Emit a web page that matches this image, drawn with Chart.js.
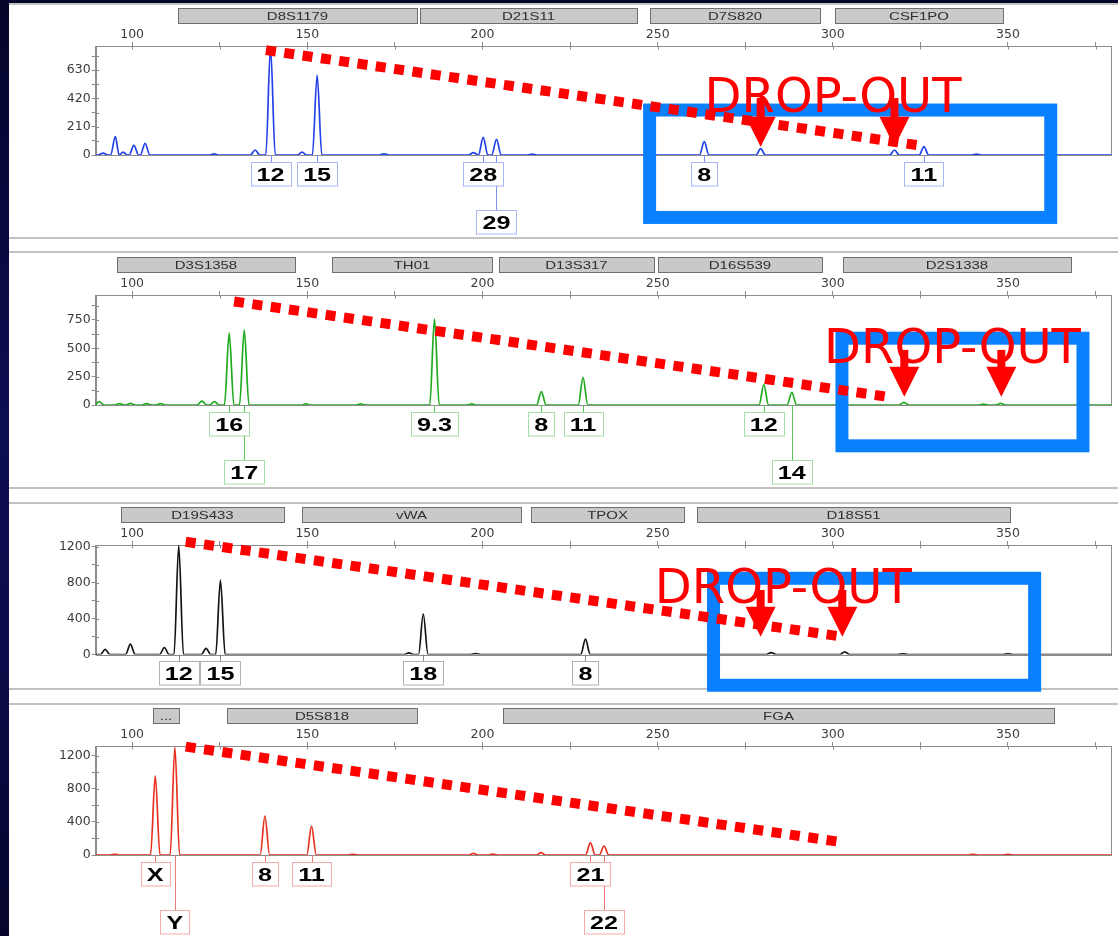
<!DOCTYPE html>
<html>
<head>
<meta charset="utf-8">
<title>STR profile – allele drop-out</title>
<script src="https://cdn.jsdelivr.net/npm/chart.js@4.4.1/dist/chart.umd.min.js"></script>
<style>
  html, body { margin: 0; padding: 0; background: #fff; }
  body { position: relative; width: 1118px; height: 936px; overflow: hidden; }
  #edge { position: absolute; left: 0; top: 0; width: 9px; height: 936px; z-index: 5;
          background: linear-gradient(#04042a, #0d0d52 45%, #0b0b4a 70%, #05052c); }
  #band { position: absolute; left: 0; top: 0; width: 1118px; height: 3px; background: #05052c; z-index: 4; }
  .sep { position: absolute; left: 9px; width: 1109px; height: 2px; background: #c2c2c2; z-index: 0; }
  canvas { position: absolute; left: 0; z-index: 1; }
</style>
</head>
<body>
<div id="edge"></div>
<div id="band"></div>
<div class="sep" style="top:3px"></div>
<div class="sep" style="top:237px"></div>
<div class="sep" style="top:251px"></div>
<div class="sep" style="top:487px"></div>
<div class="sep" style="top:502px"></div>
<div class="sep" style="top:688px"></div>
<div class="sep" style="top:703px"></div>

<canvas id="blue"  width="1118" height="232" style="top:5px"></canvas>
<canvas id="green" width="1118" height="234" style="top:254px"></canvas>
<canvas id="black" width="1118" height="188" style="top:505px"></canvas>
<canvas id="red"   width="1118" height="230" style="top:706px"></canvas>

<script>
// ---------- size window (bp) ----------
const X_MIN = 89.6;
const X_MAX = 379.6;

// ---------- blue dye ----------
const blueLoci      = ['D8S1179', 'D21S11', 'D7S820', 'CSF1PO'];
const blueLociStart = [113.0, 182.1, 247.8, 300.6];
const blueLociEnd   = [181.3, 244.1, 296.4, 348.6];
const bluePeakSize  = [91.7, 95.2, 97.4, 100.5, 103.7, 123.4, 135.1, 139.5, 148.5, 152.8, 171.9, 197.4, 200.2, 204.0, 214.2, 263.3, 279.4, 317.6, 326.0, 341.0];
const bluePeakRfu   = [14, 136, 22, 72, 87, 8, 37, 800, 22, 594, 9, 18, 131, 116, 7, 99, 47, 37, 62, 6];
const blueAlleles   = ['12', '15', '28', '29', '8', '11'];
const blueAlleleBp  = [139.5, 152.8, 200.2, 204.0, 263.3, 326.0];
const blueAlleleRow = [1, 1, 1, 2, 1, 1];

// ---------- green dye ----------
const greenLoci      = ['D3S1358', 'TH01', 'D13S317', 'D16S539', 'D2S1338'];
const greenLociStart = [95.7, 157.0, 204.7, 250.1, 303.0];
const greenLociEnd   = [146.5, 202.7, 249.0, 297.0, 368.1];
const greenPeakSize  = [90.6, 96.4, 99.5, 104.1, 108.1, 119.9, 123.5, 127.7, 132.0, 149.6, 165.2, 186.3, 196.9, 216.8, 228.7, 280.3, 288.3, 320.3, 343.0, 347.9];
const greenPeakRfu   = [30, 12, 14, 12, 12, 35, 30, 633, 662, 10, 10, 760, 10, 118, 244, 180, 112, 24, 8, 15];
const greenAlleles   = ['16', '17', '9.3', '8', '11', '12', '14'];
const greenAlleleBp  = [127.7, 132.0, 186.3, 216.8, 228.7, 280.3, 288.3];
const greenAlleleRow = [1, 2, 1, 1, 1, 1, 2];

// ---------- yellow dye (drawn black) ----------
const blackLoci      = ['D19S433', 'vWA', 'TPOX', 'D18S51'];
const blackLociStart = [96.7, 148.5, 213.9, 261.3];
const blackLociEnd   = [143.4, 211.1, 257.6, 350.5];
const blackPeakSize  = [92.3, 99.5, 109.2, 113.3, 121.1, 125.2, 179.0, 183.1, 198.0, 229.4, 282.4, 303.4, 320.0, 350.0];
const blackPeakRfu   = [58, 116, 78, 1210, 68, 828, 18, 450, 10, 170, 20, 30, 8, 8];
const blackAlleles   = ['12', '15', '18', '8'];
const blackAlleleBp  = [113.3, 125.2, 183.1, 229.4];
const blackAlleleRow = [1, 1, 1, 1];

// ---------- red dye ----------
const redLoci      = ['...', 'D5S818', 'FGA'];
const redLociStart = [105.9, 127.0, 205.8];
const redLociEnd   = [113.5, 181.3, 363.1];
const redPeakSize  = [95.0, 106.6, 112.2, 137.9, 151.2, 163.0, 197.4, 203.0, 216.7, 230.8, 234.7, 340.0, 350.0];
const redPeakRfu   = [12, 955, 1300, 471, 350, 8, 20, 10, 28, 149, 109, 8, 8];
const redAlleles   = ['X', 'Y', '8', '11', '21', '22'];
const redAlleleBp  = [106.6, 112.2, 137.9, 151.2, 230.8, 234.7];
const redAlleleRow = [1, 2, 1, 1, 1, 2];

// ---------- styling ----------
const PEAK_HALF_WIDTH = 1.35;   // bp from peak apex to baseline
const WIDE = 1.36;              // horizontal stretch of the instrument's lettering
const BOX_H = 23.5;
const AXIS_FONT = { family: '"DejaVu Sans"', size: 12.5 };

// Turn peak list into a trace: each peak rises from the baseline and returns to it.
function buildTrace(sizes, rfu) {
  const pts = [{ x: X_MIN, y: 0 }];
  for (let i = 0; i < sizes.length; i++) {
    const s = sizes[i];
    const left = s - PEAK_HALF_WIDTH;
    const last = pts[pts.length - 1];
    if (i > 0 && last.x >= left) {
      last.x = (pts[pts.length - 2].x + s) / 2;   // close peaks share one valley
    } else {
      pts.push({ x: left, y: 0 });
    }
    pts.push({ x: s, y: rfu[i] });
    pts.push({ x: s + PEAK_HALF_WIDTH, y: 0 });
  }
  pts.push({ x: X_MAX, y: 0 });
  return pts;
}

// Regular tick positions from `from` up to the axis maximum
function stepTicks(from, step) {
  return axis => {
    const t = [];
    for (let v = from; v <= axis.max + 1e-9; v += step) t.push({ value: v });
    axis.ticks = t;
  };
}

function wideText(ctx, text, cx, cy, size, weight, color) {
  ctx.save();
  ctx.font = `${weight} ${size}px "Liberation Sans", Arial, sans-serif`;
  ctx.fillStyle = color;
  ctx.textAlign = 'center';
  ctx.textBaseline = 'alphabetic';
  ctx.translate(cx, cy + 0.716 * size / 2);
  ctx.scale(WIDE, 1);
  ctx.fillText(text, 0, 0);
  ctx.restore();
}

// Plot frame with short inward tick marks
const framePlugin = {
  id: 'frame',
  beforeDatasetsDraw(chart) {
    const { left, right, top, bottom } = chart.chartArea;
    const ctx = chart.ctx;
    ctx.save();
    ctx.strokeStyle = '#8c8c8c';
    ctx.lineWidth = 1;
    ctx.strokeRect(Math.round(left) + 0.5, Math.round(top) + 0.5, Math.round(right - left) - 1, Math.round(bottom - top));
    ctx.beginPath();
    chart.scales.x.ticks.forEach(t => {
      const x = Math.round(chart.scales.x.getPixelForValue(t.value)) + 0.5;
      ctx.moveTo(x, top); ctx.lineTo(x, top + 3.5);
    });
    chart.scales.y.ticks.forEach(t => {
      const y = Math.round(chart.scales.y.getPixelForValue(t.value)) + 0.5;
      ctx.moveTo(left, y); ctx.lineTo(left + 3.5, y);
    });
    ctx.stroke();
    ctx.restore();
  }
};

// Grey locus bins above the size axis
const lociPlugin = {
  id: 'loci',
  afterDraw(chart, args, o) {
    const xs = chart.scales.x, ctx = chart.ctx;
    const top = Math.round(chart.chartArea.top - 38.5);
    o.names.forEach((n, i) => {
      const x0 = Math.round(xs.getPixelForValue(o.start[i]));
      const x1 = Math.round(xs.getPixelForValue(o.end[i]));
      ctx.save();
      ctx.fillStyle = '#c9c9c9';
      ctx.fillRect(x0, top, x1 - x0, 15);
      ctx.strokeStyle = '#6f6f6f';
      ctx.lineWidth = 1;
      ctx.strokeRect(x0 + 0.5, top + 0.5, x1 - x0, 15);
      ctx.restore();
      wideText(ctx, n, (x0 + x1) / 2, top + 8, 11, 'normal', '#2e2e2e');
    });
  }
};

// Allele call boxes under the baseline
const allelePlugin = {
  id: 'alleles',
  afterDatasetsDraw(chart, args, o) {
    const xs = chart.scales.x, ctx = chart.ctx;
    const base = chart.chartArea.bottom;
    ctx.save();
    ctx.font = 'bold 18.5px "Liberation Sans", Arial, sans-serif';
    const boxes = o.names.map((n, i) => ({
      n,
      x: xs.getPixelForValue(o.bp[i]),
      w: Math.round(ctx.measureText(n).width * WIDE + 12),
      top: Math.round(base + (o.row[i] === 2 ? 55 : 6.5))
    }));
    ctx.strokeStyle = o.lead;
    ctx.lineWidth = 1;
    boxes.forEach(b => {
      const x = Math.round(b.x) + 0.5;
      ctx.beginPath(); ctx.moveTo(x, base); ctx.lineTo(x, b.top); ctx.stroke();
    });
    boxes.forEach(b => {
      const x0 = Math.round(b.x - b.w / 2);
      ctx.fillStyle = '#fff';
      ctx.fillRect(x0, b.top, b.w, BOX_H);
      ctx.strokeStyle = o.box;
      ctx.strokeRect(x0 + 0.5, b.top + 0.5, b.w, BOX_H);
      wideText(ctx, b.n, b.x, b.top + BOX_H / 2 + 0.5, 18.5, 'bold', '#000');
    });
    ctx.restore();
  }
};

// Drop-out annotation: dotted trend, highlight frame, caption and arrows
const dropoutPlugin = {
  id: 'dropout',
  afterDraw(chart, args, o) {
    if (!o.trend) return;
    const xs = chart.scales.x, ys = chart.scales.y, ctx = chart.ctx;
    const px = v => xs.getPixelForValue(v), py = v => ys.getPixelForValue(v);
    ctx.save();
    if (o.frame) {
      ctx.strokeStyle = '#0a80ff';
      ctx.lineWidth = 13;
      const x0 = px(o.frame[0]), y0 = py(o.frame[1]);
      ctx.strokeRect(x0, y0, px(o.frame[2]) - x0, py(o.frame[3]) - y0);
    }
    ctx.strokeStyle = '#ff0000';
    ctx.lineWidth = 10;
    ctx.lineCap = 'butt';
    ctx.setLineDash([10, 8.5]);
    ctx.beginPath();
    ctx.moveTo(px(o.trend[0]), py(o.trend[1]));
    ctx.lineTo(px(o.trend[2]), py(o.trend[3]));
    ctx.stroke();
    ctx.setLineDash([]);
    ctx.fillStyle = '#ff0000';
    if (o.caption) {
      ctx.font = '48px "DejaVu Sans", sans-serif';
      ctx.textAlign = 'left';
      ctx.textBaseline = 'alphabetic';
      ctx.fillText('DROP-OUT', px(o.caption[0]), py(o.caption[1]));
    }
    (o.arrows || []).forEach(a => {
      const x = px(a[0]), top = py(a[1]), tip = py(a[2]);
      const head = tip - 30;
      ctx.fillRect(x - 4, top, 8, head - top + 1);
      ctx.beginPath();
      ctx.moveTo(x - 15, head);
      ctx.lineTo(x + 15, head);
      ctx.lineTo(x, tip);
      ctx.closePath();
      ctx.fill();
    });
    ctx.restore();
  }
};

function makePanel(id, p) {
  const canvas = document.getElementById(id);
  const H = canvas.height;
  return new Chart(canvas, {
    type: 'line',
    data: {
      datasets: [{
        data: buildTrace(p.sizes, p.rfu),
        borderColor: p.color,
        borderWidth: 1.7,
        pointRadius: 0,
        fill: false,
        cubicInterpolationMode: 'monotone'
      }]
    },
    options: {
      responsive: false,
      animation: false,
      events: [],
      layout: { padding: { left: 0, right: 6.3, top: 0, bottom: H - p.baseline } },
      plugins: {
        legend: { display: false },
        tooltip: { enabled: false },
        loci: { names: p.loci, start: p.lociStart, end: p.lociEnd },
        alleles: { names: p.alleles, bp: p.alleleBp, row: p.alleleRow, box: p.box, lead: p.lead },
        dropout: p.dropout || {}
      },
      scales: {
        x: {
          type: 'linear',
          position: 'top',
          min: X_MIN,
          max: X_MAX,
          afterFit: s => { s.height = p.plotTop; },
          afterBuildTicks: stepTicks(100, 25),
          border: { display: true, color: '#8c8c8c' },
          grid: { drawOnChartArea: false, drawTicks: true, tickLength: 4, color: '#8c8c8c' },
          ticks: {
            autoSkip: false,
            maxRotation: 0,
            padding: 0,
            color: '#3c3c3c',
            font: AXIS_FONT,
            callback: v => (Math.round(v) % 50 === 0 ? String(Math.round(v)) : '')
          }
        },
        y: {
          type: 'linear',
          min: 0,
          max: p.yMax,
          afterFit: s => { s.width = 95.7; },
          afterBuildTicks: stepTicks(0, p.yStep),
          border: { display: true, color: '#8c8c8c' },
          grid: { drawOnChartArea: false, drawTicks: true, tickLength: 4, color: '#8c8c8c' },
          ticks: {
            autoSkip: false,
            padding: 1,
            color: '#3c3c3c',
            font: AXIS_FONT,
            callback: v => (Math.round(v) % p.yLabelEvery === 0 ? String(Math.round(v)) : '')
          }
        }
      }
    },
    plugins: [framePlugin, lociPlugin, allelePlugin, dropoutPlugin]
  });
}

makePanel('blue', {
  sizes: bluePeakSize, rfu: bluePeakRfu, color: '#2341ea',
  loci: blueLoci, lociStart: blueLociStart, lociEnd: blueLociEnd,
  alleles: blueAlleles, alleleBp: blueAlleleBp, alleleRow: blueAlleleRow,
  box: '#aab6f4', lead: '#7d8ff0',
  plotTop: 41, baseline: 150, yMax: 810, yStep: 105, yLabelEvery: 210,
  dropout: {
    trend: [138.2, 779, 323.9, 74],
    frame: [247.7, 334, 362.2, -464],
    caption: [263.4, 321],
    arrows: [[279.4, 423, 62], [317.6, 423, 62]]
  }
});

makePanel('green', {
  sizes: greenPeakSize, rfu: greenPeakRfu, color: '#1faa1f',
  loci: greenLoci, lociStart: greenLociStart, lociEnd: greenLociEnd,
  alleles: greenAlleles, alleleBp: greenAlleleBp, alleleRow: greenAlleleRow,
  box: '#a6dea6', lead: '#5cc45c',
  plotTop: 41, baseline: 151, yMax: 970, yStep: 125, yLabelEvery: 250,
  dropout: {
    trend: [129.1, 913, 315.4, 73],
    frame: [302.6, 589, 371.4, -360],
    caption: [297.5, 371],
    arrows: [[320.4, 486, 73], [348.1, 486, 73]]
  }
});

makePanel('black', {
  sizes: blackPeakSize, rfu: blackPeakRfu, color: '#141414',
  loci: blackLoci, lociStart: blackLociStart, lociEnd: blackLociEnd,
  alleles: blackAlleles, alleleBp: blackAlleleBp, alleleRow: blackAlleleRow,
  box: '#b2b2b2', lead: '#8a8a8a',
  plotTop: 40, baseline: 149.5, yMax: 1217, yStep: 200, yLabelEvery: 400,
  dropout: {
    trend: [115.3, 1253, 302.7, 198],
    frame: [265.95, 847, 357.6, -342],
    caption: [249.2, 569],
    arrows: [[279.4, 717, 198], [302.7, 717, 198]]
  }
});

makePanel('red', {
  sizes: redPeakSize, rfu: redPeakRfu, color: '#e8321f',
  loci: redLoci, lociStart: redLociStart, lociEnd: redLociEnd,
  alleles: redAlleles, alleleBp: redAlleleBp, alleleRow: redAlleleRow,
  box: '#f4aaaa', lead: '#ee7a7a',
  plotTop: 40, baseline: 149, yMax: 1317, yStep: 200, yLabelEvery: 400,
  dropout: {
    trend: [115.3, 1309, 301.6, 161]
  }
});
</script>
</body>
</html>
